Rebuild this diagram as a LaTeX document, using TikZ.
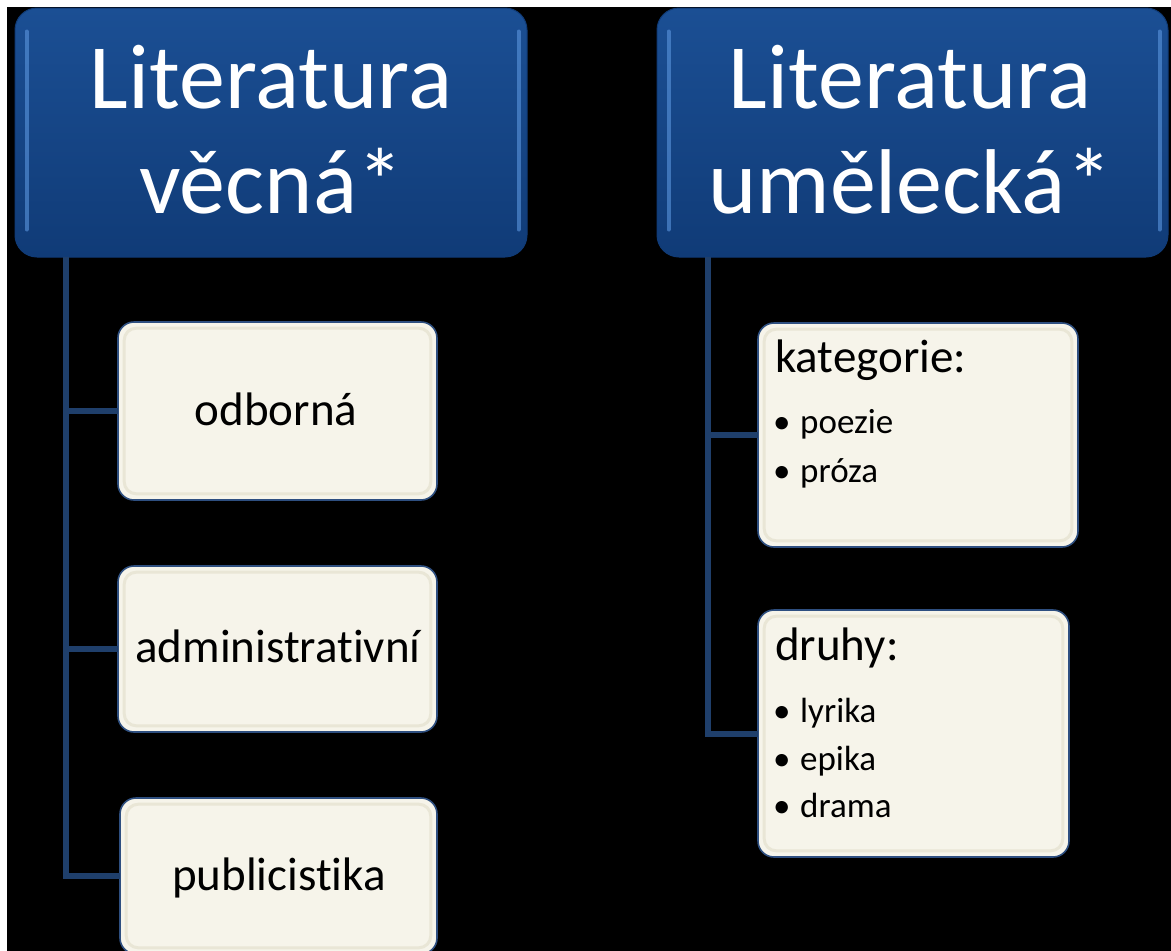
\documentclass[tikz,border=0pt]{standalone}
\usepackage{fontspec}
\setmainfont[RawFeature={-liga;-clig;-dlig;-calt;-hlig}]{Carlito}
\newcommand{\nl}{\kern0pt{}}
\definecolor{headtop}{HTML}{1B4F94}
\definecolor{headbot}{HTML}{103B77}
\definecolor{rim}{HTML}{5B96DE}
\definecolor{conn}{HTML}{1F3F6B}
\definecolor{cream}{HTML}{F6F4EA}
\definecolor{creamedge}{HTML}{E9E6D6}
\definecolor{cborder}{HTML}{2E4F80}
\begin{document}
\begin{tikzpicture}[x=1pt,y=-1pt,
  headbox/.style={rounded corners=22pt, top color=headtop, bottom color=headbot, draw=headbot, line width=1pt, inner sep=0pt},
  rimline/.style={draw=rim, line width=4pt, line cap=round, opacity=0.6},
  headtext/.style={text=white, inner sep=0pt, anchor=base, font=\fontsize{92}{100}\selectfont},
  childbox/.style={rounded corners=16pt, fill=cream, draw=cborder, line width=1.6pt, inner sep=0pt},
  innerbevel/.style={rounded corners=12pt, draw=creamedge, line width=3pt},
  childtext/.style={text=black, inner sep=0pt, anchor=base, font=\fontsize{47}{50}\selectfont},
  listhead/.style={text=black, inner sep=0pt, anchor=base west, font=\fontsize{47}{50}\selectfont},
  listitem/.style={text=black, inner sep=0pt, anchor=base west, font=\fontsize{35}{40}\selectfont},
  conn/.style={draw=conn, line width=6pt}
]
\useasboundingbox (0,0) rectangle (1171,951);
\fill[white] (0,0) rectangle (1171,951);
\fill[black] (7,7) rectangle (1171,951);

% headers
\node[headbox, minimum width=512pt, minimum height=249pt] (h1) at (271,132.5) {};
\node[headbox, minimum width=511pt, minimum height=249pt] (h2) at (912.5,132.5) {};
\draw[rimline] ([xshift=12pt,yshift=-24pt]h1.north west) -- ([xshift=12pt,yshift=28pt]h1.south west);
\draw[rimline] ([xshift=-9pt,yshift=-24pt]h1.north east) -- ([xshift=-9pt,yshift=28pt]h1.south east);
\draw[rimline] ([xshift=12pt,yshift=-24pt]h2.north west) -- ([xshift=12pt,yshift=28pt]h2.south west);
\draw[rimline] ([xshift=-9pt,yshift=-24pt]h2.north east) -- ([xshift=-9pt,yshift=28pt]h2.south east);
\node[headtext] (h1a) at (271,108) {Literat\nl ura};
\node[headtext] (h1b) at (271,213) {věcná*};
\node[headtext] (h2a) at (910,108) {Literat\nl ura};
\node[headtext] (h2b) at (910,213) {umělecká*};

% connector start points
\coordinate (t1) at (66,257);
\coordinate (t2) at (708,257);

% child boxes
\node[childbox, minimum width=319pt, minimum height=178pt] (b1) at (277.5,411) {};
\node[childbox, minimum width=319pt, minimum height=166pt] (b2) at (277.5,649) {};
\node[childbox, minimum width=317pt, minimum height=156pt] (b3) at (278.5,876) {};
\node[childbox, minimum width=320pt, minimum height=224pt] (k1) at (918,435) {};
\node[childbox, minimum width=311pt, minimum height=247pt] (k2) at (913.5,733.5) {};

% connectors
\draw[conn] (t1) |- ([xshift=1pt]b1.west);
\draw[conn] (t1) |- ([xshift=1pt]b2.west);
\draw[conn] (t1) |- ([xshift=1pt]b3.west);
\draw[conn] (t2) |- ([xshift=1pt]k1.west);
\draw[conn] (t2) |- ([xshift=1pt]k2.west);

% inner bevels
\foreach \b in {b1,b2,b3,k1,k2}{
  \draw[innerbevel] ([shift={(7pt,-7pt)}]\b.north west) rectangle ([shift={(-7pt,7pt)}]\b.south east);
}

% texts
\node[childtext] (t-odb) at (276,425) {odborná};
\node[childtext] (t-adm) at (278,662) {administrat\nl ivní};
\node[childtext] (t-pub) at (279,890) {publicist\nl ika};

\node[listhead] (kat) at (775,372) {kategorie:};
\node[listitem] (poe) at (773,433) {\makebox[27pt][l]{•}poezie};
\node[listitem] (pro) at (773,482) {\makebox[27pt][l]{•}próza};

\node[listhead] (dru) at (775,660) {druhy:};
\node[listitem] (lyr) at (773,722) {\makebox[27pt][l]{•}lyrika};
\node[listitem] (epi) at (773,770) {\makebox[27pt][l]{•}epika};
\node[listitem] (dra) at (773,817) {\makebox[27pt][l]{•}drama};
\end{tikzpicture}
\end{document}
